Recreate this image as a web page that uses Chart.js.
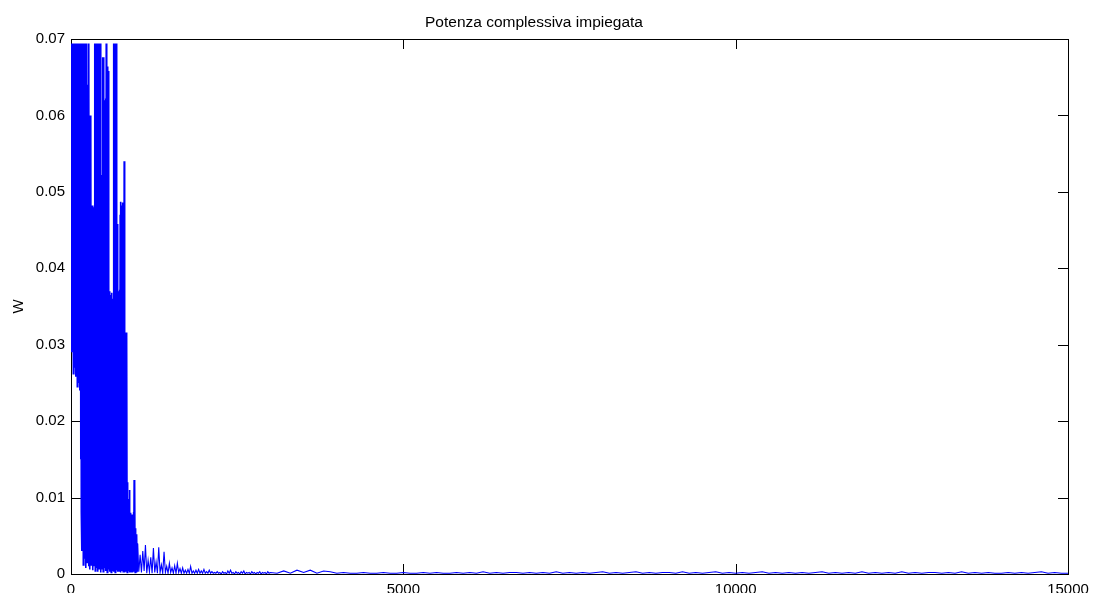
<!DOCTYPE html>
<html>
<head>
<meta charset="utf-8">
<title>Potenza complessiva impiegata</title>
<script src="https://cdn.jsdelivr.net/npm/chart.js@4.4.1/dist/chart.umd.min.js"></script>
<style>
  html, body { margin: 0; padding: 0; background: #ffffff; }
  #wrap { width: 1093px; height: 593px; position: relative; }
</style>
</head>
<body>
<div id="wrap"><canvas id="plot"></canvas></div>
<script>
// Power burst during the first ~1000 samples (W), sampled every 5 samples
const burstStart = 0;
const burstStep = 5;
const burstPower = [
  0.0610, 0.0340, 0.0694, 0.0290, 0.0694, 0.0330, 0.0650, 0.0262, 0.0694, 0.0310,
  0.0694, 0.0270, 0.0680, 0.0300, 0.0694, 0.0258, 0.0694, 0.0330, 0.0660, 0.0245,
  0.0694, 0.0280, 0.0694, 0.0250, 0.0694, 0.0310, 0.0672, 0.0240, 0.0694, 0.0150,
  0.0694, 0.0080, 0.0694, 0.0030, 0.0655, 0.0060, 0.0694, 0.0012, 0.0694, 0.0045,
  0.0640, 0.0020, 0.0694, 0.0070, 0.0694, 0.0008, 0.0670, 0.0040, 0.0694, 0.0015,
  0.0640, 0.0055, 0.0640, 0.0010, 0.0694, 0.0035, 0.0600, 0.0006, 0.0600, 0.0048,
  0.0598, 0.0012, 0.0480, 0.0030, 0.0482, 0.0005, 0.0220, 0.0040, 0.0478, 0.0010,
  0.0480, 0.0026, 0.0694, 0.0004, 0.0694, 0.0032, 0.0694, 0.0008, 0.0694, 0.0050,
  0.0694, 0.0003, 0.0694, 0.0024, 0.0694, 0.0007, 0.0520, 0.0035, 0.0694, 0.0002,
  0.0520, 0.0040, 0.0515, 0.0006, 0.0522, 0.0028, 0.0676, 0.0003, 0.0676, 0.0045,
  0.0620, 0.0008, 0.0618, 0.0020, 0.0622, 0.0004, 0.0694, 0.0030, 0.0660, 0.0002,
  0.0664, 0.0036, 0.0658, 0.0006, 0.0380, 0.0025, 0.0370, 0.0003, 0.0365, 0.0018,
  0.0362, 0.0002, 0.0368, 0.0030, 0.0360, 0.0004, 0.0350, 0.0015, 0.0694, 0.0003,
  0.0694, 0.0022, 0.0694, 0.0002, 0.0694, 0.0012, 0.0694, 0.0005, 0.0460, 0.0030,
  0.0458, 0.0003, 0.0370, 0.0016, 0.0368, 0.0004, 0.0372, 0.0020, 0.0470, 0.0002,
  0.0487, 0.0012, 0.0482, 0.0004, 0.0475, 0.0025, 0.0486, 0.0003, 0.0350, 0.0010,
  0.0540, 0.0002, 0.0315, 0.0015, 0.0312, 0.0003, 0.0316, 0.0009, 0.0310, 0.0002,
  0.0120, 0.0012, 0.0098, 0.0004, 0.0085, 0.0007, 0.0110, 0.0002, 0.0075, 0.0009,
  0.0080, 0.0003, 0.0062, 0.0006, 0.0078, 0.0002, 0.0055, 0.0008, 0.0081, 0.0003,
  0.0123, 0.0005, 0.0120, 0.0002, 0.0060, 0.0006, 0.0045, 0.0002, 0.0052, 0.0004
];

// Decaying ripple after the burst, sampled every 20 samples
const decayStart = 1000;
const decayStep = 20;
const decayPower = [
  0.0040, 0.0003, 0.0025, 0.0002, 0.0030, 0.0004, 0.0038, 0.0001, 0.0018, 0.0003,
  0.0022, 0.0001, 0.0034, 0.0002, 0.0016, 0.0001, 0.0035, 0.0002, 0.0012, 0.0001,
  0.0029, 0.0002, 0.0010, 0.0001, 0.0014, 0.0002, 0.0008, 0.0001, 0.0011, 0.0001,
  0.0014, 0.0002, 0.0007, 0.0001, 0.0008, 0.0001, 0.0005, 0.0001, 0.0006, 0.0001,
  0.0010, 0.0001, 0.0004, 0.0001, 0.0005, 0.0001, 0.0006, 0.0001, 0.0004, 0.0001,
  0.0006, 0.0001, 0.0003, 0.0001, 0.0005, 0.0001, 0.0003, 0.0001, 0.0002, 0.0001,
  0.0003, 0.0001, 0.0002, 0.0000, 0.0003, 0.0001, 0.0002, 0.0000, 0.0004, 0.0001,
  0.0005, 0.0001, 0.0002, 0.0000, 0.0003, 0.0001, 0.0002, 0.0000, 0.0003, 0.0001,
  0.0004, 0.0000, 0.0002, 0.0001, 0.0002, 0.0000, 0.0003, 0.0001, 0.0002, 0.0000,
  0.0002, 0.0001, 0.0003, 0.0000, 0.0002, 0.0001, 0.0002, 0.0000, 0.0003, 0.0001
];

// Residual level up to the end of the run, sampled every 100 samples
const tailStart = 3000;
const tailStep = 100;
const tailPower = [
  0.0002, 0.0001, 0.0004, 0.0001, 0.0005, 0.0002, 0.0005, 0.0001, 0.0004, 0.0003,
  0.0001, 0.0002, 0.0001, 0.0001, 0.0002, 0.0001, 0.0001, 0.0002, 0.0001, 0.0001,
  0.0002, 0.0001, 0.0001, 0.0002, 0.0001, 0.0002, 0.0001, 0.0001, 0.0002, 0.0001,
  0.0002, 0.0001, 0.0003, 0.0001, 0.0002, 0.0001, 0.0002, 0.0002, 0.0001, 0.0002,
  0.0001, 0.0002, 0.0001, 0.0003, 0.0001, 0.0002, 0.0001, 0.0002, 0.0001, 0.0002,
  0.0003, 0.0001, 0.0002, 0.0001, 0.0002, 0.0003, 0.0001, 0.0002, 0.0001, 0.0002,
  0.0002, 0.0001, 0.0003, 0.0001, 0.0002, 0.0001, 0.0002, 0.0003, 0.0001, 0.0002,
  0.0001, 0.0002, 0.0001, 0.0002, 0.0003, 0.0001, 0.0002, 0.0001, 0.0002, 0.0001,
  0.0002, 0.0001, 0.0002, 0.0003, 0.0001, 0.0002, 0.0001, 0.0002, 0.0001, 0.0003,
  0.0001, 0.0002, 0.0001, 0.0002, 0.0001, 0.0003, 0.0001, 0.0002, 0.0001, 0.0002,
  0.0002, 0.0001, 0.0002, 0.0001, 0.0003, 0.0001, 0.0002, 0.0001, 0.0002, 0.0001,
  0.0001, 0.0002, 0.0001, 0.0002, 0.0001, 0.0002, 0.0003, 0.0001, 0.0002, 0.0001,
  0.0001
];

// Axis ticks
const xTicks = [0, 5000, 10000, 15000];
const xTickLabels = ['0', '5000', '10000', '15000'];
const yTicks = [0, 0.01, 0.02, 0.03, 0.04, 0.05, 0.06, 0.07];
const yTickLabels = ['0', '0.01', '0.02', '0.03', '0.04', '0.05', '0.06', '0.07'];

const titleText = 'Potenza complessiva impiegata';
const yTitleText = 'W';

function toPoints(start, step, values) {
  return values.map((v, i) => ({ x: start + i * step, y: v }));
}

const series = [
  ...toPoints(burstStart, burstStep, burstPower),
  ...toPoints(decayStart, decayStep, decayPower),
  ...toPoints(tailStart, tailStep, tailPower)
];

const FONT = '"Liberation Sans", Arial, Helvetica, sans-serif';

// Box around the axes with inward tick marks on all four sides
const boxTicks = {
  id: 'boxTicks',
  beforeDatasetsDraw(chart) {
    const { ctx, chartArea: a, scales } = chart;
    const len = 10;
    ctx.save();
    ctx.strokeStyle = '#000000';
    ctx.lineWidth = 1;
    ctx.beginPath();
    xTicks.forEach(v => {
      const px = Math.round(scales.x.getPixelForValue(v)) + 0.5;
      ctx.moveTo(px, a.bottom); ctx.lineTo(px, a.bottom - len);
      ctx.moveTo(px, a.top); ctx.lineTo(px, a.top + len);
    });
    yTicks.forEach(v => {
      const py = Math.round(scales.y.getPixelForValue(v)) + 0.5;
      ctx.moveTo(a.left, py); ctx.lineTo(a.left + len, py);
      ctx.moveTo(a.right, py); ctx.lineTo(a.right - len, py);
    });
    ctx.stroke();
    ctx.strokeRect(Math.round(a.left) + 0.5, Math.round(a.top) + 0.5,
                   Math.round(a.right - a.left), Math.round(a.bottom - a.top));
    ctx.restore();
  }
};

new Chart(document.getElementById('plot'), {
  type: 'line',
  data: {
    datasets: [{
      data: series,
      borderColor: '#0000ff',
      borderWidth: 1,
      segment: {
        // the dense burst is drawn a touch heavier so it reads as a solid band
        borderWidth: c => (c.p0.parsed.x < decayStart ? 1.6 : 1.1)
      },
      pointRadius: 0,
      tension: 0,
      fill: false
    }]
  },
  options: {
    responsive: true,
    maintainAspectRatio: false,
    animation: false,
    parsing: false,
    normalized: true,
    events: [],
    layout: { padding: { left: 0, right: 25, top: 0, bottom: 0 } },
    plugins: {
      legend: { display: false },
      tooltip: { enabled: false },
      decimation: { enabled: false },
      title: {
        display: true,
        text: titleText,
        color: '#000000',
        font: { family: FONT, size: 15.5, weight: 'normal', lineHeight: 1.2 },
        padding: { top: 13, bottom: 7.4 }
      }
    },
    scales: {
      x: {
        type: 'linear',
        min: 0,
        max: 15000,
        grid: { display: false, drawTicks: false },
        border: { display: false },
        afterBuildTicks: s => { s.ticks = xTicks.map(v => ({ value: v })); },
        afterFit: s => { s.height = 19; s.paddingLeft = 0; s.paddingRight = 0; },
        ticks: {
          autoSkip: false,
          maxRotation: 0,
          padding: 7,
          color: '#000000',
          font: { family: FONT, size: 15 },
          callback: (v) => xTickLabels[xTicks.indexOf(v)]
        }
      },
      y: {
        type: 'linear',
        min: 0,
        max: 0.07,
        grid: { display: false, drawTicks: false },
        border: { display: false },
        afterBuildTicks: s => { s.ticks = yTicks.map(v => ({ value: v })); },
        afterFit: s => { s.width = 71; s.paddingTop = 0; s.paddingBottom = 0; },
        title: {
          display: true,
          text: yTitleText,
          color: '#000000',
          font: { family: FONT, size: 15 },
          padding: { top: 10, bottom: 0 }
        },
        ticks: {
          autoSkip: false,
          padding: 6,
          color: '#000000',
          font: { family: FONT, size: 15 },
          callback: (v) => yTickLabels[yTicks.indexOf(v)]
        }
      }
    }
  },
  plugins: [boxTicks]
});
</script>
</body>
</html>
